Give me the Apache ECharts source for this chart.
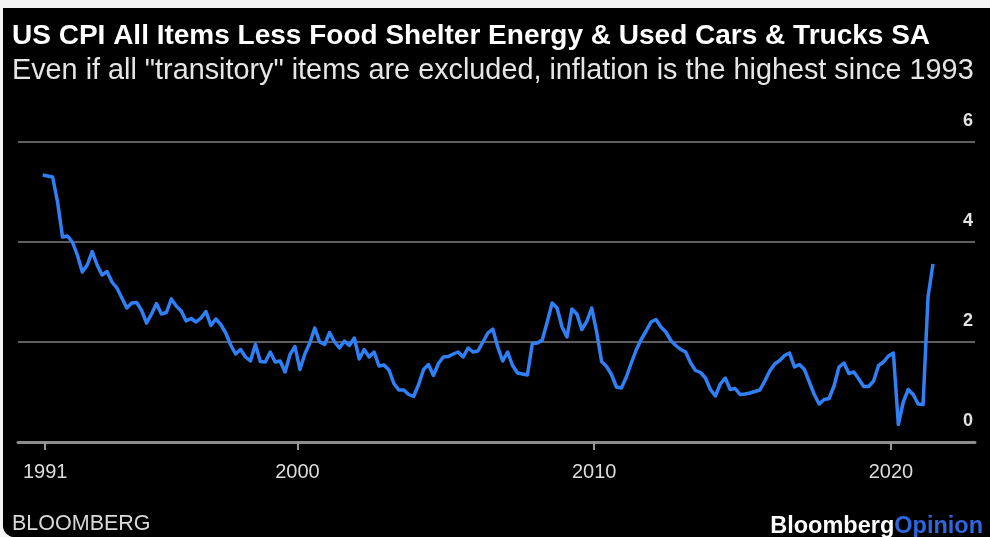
<!DOCTYPE html>
<html>
<head>
<meta charset="utf-8">
<title>US CPI ex food, shelter, energy &amp; used vehicles</title>
<script src="https://cdn.jsdelivr.net/npm/echarts@6/dist/echarts.min.js"></script>
<style>
  html, body { margin: 0; padding: 0; background: #f4f4f4; }
  #chart {
    position: absolute; left: 3px; top: 8px;
    width: 987px; height: 529px;
    background: #000;
    border-bottom-left-radius: 12px;
    overflow: hidden;
  }
</style>
</head>
<body>
<div id="chart"></div>
<script>
// Axis range (monthly categories) and the labelled ticks
const axisStart = [1990, 8];
const axisEnd = [2022, 11];
const tickMonths = ['1991-07', '2000-01', '2010-01', '2020-01'];
const tickLabels = ['1991', '2000', '2010', '2020'];
const yTicks = [0, 2, 4, 6];

// Year-over-year % change, sampled every second month from June 1991
const cpiStart = [1991, 6];
const cpiStepMonths = 2;
const cpiValues = [
  5.34, 5.32, 5.30, 4.80, 4.10, 4.12, 4.00, 3.74, 3.40, 3.54,
  3.81, 3.54, 3.34, 3.41, 3.20, 3.08, 2.88, 2.68, 2.78, 2.79,
  2.63, 2.38, 2.56, 2.77, 2.56, 2.59, 2.86, 2.72, 2.62, 2.42,
  2.47, 2.40, 2.48, 2.61, 2.33, 2.46, 2.35, 2.18, 1.94, 1.76,
  1.85, 1.70, 1.62, 1.95, 1.61, 1.60, 1.80, 1.60, 1.62, 1.40,
  1.75, 1.91, 1.45, 1.76, 1.98, 2.28, 2.00, 1.95, 2.19, 2.00,
  1.88, 2.02, 1.93, 2.08, 1.66, 1.85, 1.70, 1.80, 1.52, 1.54,
  1.44, 1.17, 1.04, 1.04, 0.95, 0.91, 1.15, 1.45, 1.55, 1.33,
  1.57, 1.70, 1.71, 1.76, 1.80, 1.70, 1.88, 1.80, 1.82, 2.00,
  2.18, 2.26, 1.90, 1.62, 1.80, 1.53, 1.38, 1.36, 1.34, 1.97,
  1.98, 2.04, 2.40, 2.78, 2.68, 2.30, 2.10, 2.66, 2.56, 2.25,
  2.41, 2.68, 2.20, 1.61, 1.51, 1.35, 1.10, 1.08, 1.30, 1.58,
  1.84, 2.05, 2.22, 2.40, 2.45, 2.30, 2.20, 2.03, 1.93, 1.85,
  1.80, 1.58, 1.43, 1.39, 1.28, 1.05, 0.92, 1.16, 1.28, 1.05,
  1.07, 0.95, 0.96, 0.98, 1.01, 1.04, 1.22, 1.42, 1.56, 1.63,
  1.73, 1.78, 1.50, 1.55, 1.45, 1.20, 0.95, 0.76, 0.85, 0.87,
  1.12, 1.50, 1.58, 1.37, 1.40, 1.26, 1.11, 1.11, 1.22, 1.53,
  1.60, 1.72, 1.78, 0.35, 0.80, 1.05, 0.95, 0.76, 0.75, 2.90,
  3.56
];

function monthKey(y, m) {
  return y + '-' + String(m).padStart(2, '0');
}
function addMonths(ym, n) {
  const t = ym[0] * 12 + (ym[1] - 1) + n;
  return [Math.floor(t / 12), (t % 12) + 1];
}

// Build the monthly category list for the x axis
const categories = [];
{
  const total = (axisEnd[0] * 12 + axisEnd[1]) - (axisStart[0] * 12 + axisStart[1]);
  for (let i = 0; i <= total; i++) {
    const ym = addMonths(axisStart, i);
    categories.push(monthKey(ym[0], ym[1]));
  }
}

// Pair each reading with its month
const cpiData = cpiValues.map((v, i) => {
  const ym = addMonths(cpiStart, i * cpiStepMonths);
  return [monthKey(ym[0], ym[1]), v];
});

const isTick = (idx, val) => tickMonths.indexOf(val) !== -1;

const chart = echarts.init(document.getElementById('chart'), null, { renderer: 'canvas' });

const face = '"Liberation Sans", Arial, sans-serif';

chart.setOption({
  backgroundColor: '#000',
  animation: false,
  title: [
    {
      text: 'US CPI All Items Less Food Shelter Energy & Used Cars & Trucks SA',
      subtext: 'Even if all "transitory" items are excluded, inflation is the highest since 1993',
      left: 4,
      top: 9,
      itemGap: 7,
      textStyle: { color: '#ffffff', fontFamily: face, fontWeight: 'bold', fontSize: 28 },
      subtextStyle: { color: '#e6e6e6', fontFamily: face, fontWeight: 'normal', fontSize: 28.8 }
    },
    {
      text: 'BLOOMBERG',
      left: 4,
      top: 500,
      textStyle: { color: '#d8d8d8', fontFamily: face, fontWeight: 'normal', fontSize: 21.5 }
    },
    {
      text: '{a|Bloomberg}{b|Opinion}',
      right: 2,
      top: 502,
      textStyle: {
        rich: {
          a: { color: '#ffffff', fontFamily: face, fontWeight: 'bold', fontSize: 23.5 },
          b: { color: '#2f66dc', fontFamily: face, fontWeight: 'bold', fontSize: 23.5 }
        }
      }
    }
  ],
  grid: { left: 15, right: 15, top: 134, bottom: 95, containLabel: false },
  xAxis: {
    type: 'category',
    data: categories,
    boundaryGap: false,
    axisLine: { show: true, lineStyle: { color: '#8c8c8c', width: 3 } },
    axisTick: { show: true, interval: isTick, length: 8, lineStyle: { color: '#9a9a9a', width: 2 } },
    axisLabel: {
      show: true,
      interval: isTick,
      margin: 20,
      color: '#dcdcdc',
      fontFamily: face,
      fontSize: 20,
      formatter: (val) => tickLabels[tickMonths.indexOf(val)]
    },
    splitLine: { show: false }
  },
  yAxis: {
    type: 'value',
    position: 'right',
    min: yTicks[0],
    max: yTicks[yTicks.length - 1],
    interval: 2,
    axisLine: { show: false },
    axisTick: { show: false },
    axisLabel: {
      inside: true,
      margin: 2,
      verticalAlign: 'bottom',
      padding: [0, 0, 12, 0],
      color: '#e2e2e2',
      fontFamily: face,
      fontWeight: 'bold',
      fontSize: 18
    },
    splitLine: { show: true, lineStyle: { color: '#5e5e5e', width: 2 } }
  },
  series: [
    {
      type: 'line',
      data: cpiData,
      symbol: 'none',
      smooth: false,
      lineStyle: { color: '#2f80f6', width: 3.5, join: 'round' }
    }
  ]
});
</script>
</body>
</html>
